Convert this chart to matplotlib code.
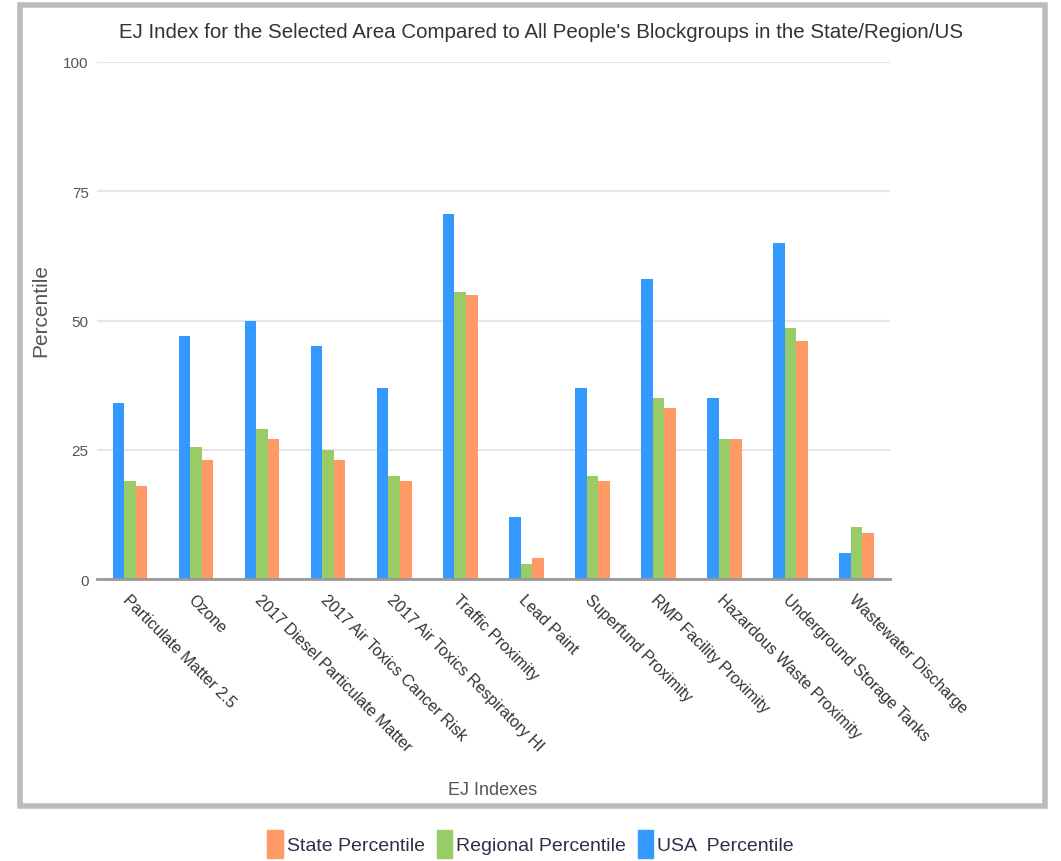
import matplotlib.pyplot as plt
import numpy as np
from matplotlib.patches import Rectangle, Patch

categories = ['Particulate Matter 2.5', 'Ozone', '2017 Diesel Particulate Matter',
              '2017 Air Toxics Cancer Risk', '2017 Air Toxics Respiratory HI',
              'Traffic Proximity', 'Lead Paint', 'Superfund Proximity',
              'RMP Facility Proximity', 'Hazardous Waste Proximity',
              'Underground Storage Tanks', 'Wastewater Discharge']
usa_pct = [34, 47, 50, 45, 37, 70.5, 12, 37, 58, 35, 65, 5]
regional_pct = [19, 25.5, 29, 25, 20, 55.5, 3, 20, 35, 27, 48.5, 10]
state_pct = [18, 23, 27, 23, 19, 55, 4, 19, 33, 27, 46, 9]
y_ticks = [0, 25, 50, 75, 100]

c_usa = '#3399FF'
c_reg = '#99CC66'
c_state = '#FF9966'

plt.rcParams['font.family'] = ['Liberation Sans', 'DejaVu Sans']

fig = plt.figure(figsize=(10.61, 8.62), dpi=100)
ax = fig.add_axes([0.0914, 0.327, 0.747, 0.6])

x = np.arange(len(categories))
w = 0.175
ax.bar(x - w, usa_pct, w, color=c_usa)
ax.bar(x, regional_pct, w, color=c_reg)
ax.bar(x + w, state_pct, w, color=c_state)

ax.set_xlim(-0.5, len(categories) - 0.5)
ax.set_ylim(0, 100)
ax.set_yticks(y_ticks)
ax.set_yticklabels([str(t) for t in y_ticks], fontsize=11, color='#555555')
ax.tick_params(axis='y', length=0, pad=6)
ax.tick_params(axis='x', length=0, pad=9)
ax.set_xticks(x)
ax.set_xticklabels(categories, rotation=-45, ha='left', va='top',
                   rotation_mode='anchor', fontsize=11.5, color='#333333')
ax.yaxis.grid(True, color='#e6e6e6', linewidth=1.5)
ax.set_axisbelow(True)
for s in ['top', 'right', 'left']:
    ax.spines[s].set_visible(False)
ax.spines['bottom'].set_color('#999999')
ax.spines['bottom'].set_linewidth(2)

fig.text(0.038, 0.64, 'Percentile', rotation=90, ha='center', va='center',
         fontsize=15, color='#555555')
fig.text(0.464, 0.083, 'EJ Indexes', ha='center', va='center', fontsize=13, color='#555555')
fig.text(0.51, 0.962, "EJ Index for the Selected Area Compared to All People's Blockgroups in the State/Region/US",
         ha='center', va='center', fontsize=14.8, color='#333333')

# outer frame
fig.patches.append(Rectangle((0.019, 0.064), 0.966, 0.929, transform=fig.transFigure,
                             fill=False, edgecolor='#bbbbbb', linewidth=4))

handles = [Patch(color=c_state, label='State Percentile'),
           Patch(color=c_reg, label='Regional Percentile'),
           Patch(color=c_usa, label='USA  Percentile')]
fig.legend(handles=handles, loc='center', bbox_to_anchor=(0.5, 0.02), ncol=3,
           frameon=False, fontsize=14, handlelength=0.8, handleheight=1.8,
           handletextpad=0.2, columnspacing=0.6, labelcolor='#3a2a4a')

fig.savefig('out.png', dpi=100)
